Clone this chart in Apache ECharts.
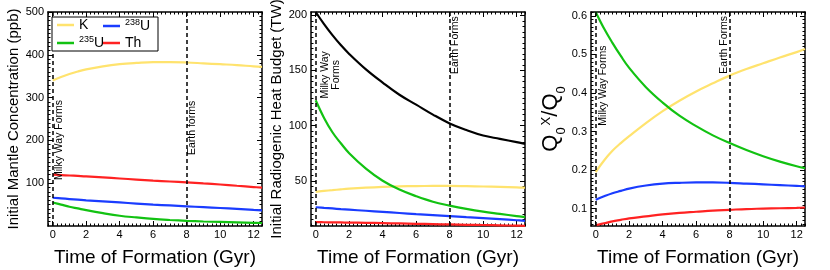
<!DOCTYPE html>
<html>
<head>
<meta charset="utf-8">
<script src="https://cdn.jsdelivr.net/npm/echarts@6/dist/echarts.min.js"></script>
<style>
html,body{margin:0;padding:0;background:#fff;}
#chart{width:830px;height:270px;}
</style>
</head>
<body>
<div id="chart"></div>
<script>
// ---- data ----
const time = [0, 0.5, 1, 1.5, 2, 3, 4, 5, 6, 7, 8, 9, 10, 11, 12, 12.5];

// Panel 1: initial mantle concentration (ppb)
const concK    = [340, 348, 355, 361, 366, 373, 378, 381, 383, 383, 382, 380, 378, 376, 373, 372];
const concU238 = [66, 64.5, 63, 61.5, 60, 57.5, 55, 52.5, 50, 48, 46, 44, 42, 40, 37.5, 36.5];
const concU235 = [55, 50, 45, 41, 37, 30, 24, 20, 16.5, 14, 12, 10.5, 9.5, 8.5, 7.5, 7];
const concTh   = [120, 119, 118, 117, 116, 113.5, 111, 108.5, 106, 104, 102, 99.5, 97, 94, 91, 89.5];

// Panel 2: initial radiogenic heat budget (TW)
const heatTotal = [203, 192, 182, 173, 165, 151, 139, 128, 119, 110, 102, 96, 91, 88, 85, 83.5];
const heatK     = [40, 40.8, 41.5, 42.2, 42.8, 43.7, 44.4, 44.9, 45.2, 45.3, 45.3, 45.1, 44.8, 44.5, 44.1, 43.8];
const heatU238  = [26, 25.4, 24.9, 24.3, 23.8, 22.8, 21.8, 20.8, 19.8, 18.9, 18, 17.1, 16.2, 15.2, 14.2, 13.7];
const heatU235  = [123, 107, 94, 84, 75, 61, 50, 42, 36, 31, 27.5, 24.5, 22, 20, 18, 17];
const heatTh    = [12.5, 12.4, 12.3, 12.2, 12.1, 11.9, 11.6, 11.3, 11, 10.7, 10.4, 10.1, 9.9, 9.6, 9.3, 9.2];

// Panel 3: fraction Q0^X / Q0
const fracK    = [0.195, 0.225, 0.25, 0.27, 0.288, 0.322, 0.353, 0.38, 0.404, 0.425, 0.445, 0.462, 0.477, 0.492, 0.506, 0.514];
const fracU238 = [0.123, 0.132, 0.14, 0.146, 0.152, 0.16, 0.165, 0.167, 0.168, 0.168, 0.167, 0.165, 0.163, 0.161, 0.159, 0.158];
const fracU235 = [0.61, 0.567, 0.53, 0.496, 0.465, 0.415, 0.375, 0.341, 0.314, 0.29, 0.27, 0.252, 0.236, 0.222, 0.21, 0.205];
const fracTh   = [0.057, 0.062, 0.067, 0.071, 0.075, 0.080, 0.085, 0.089, 0.092, 0.095, 0.097, 0.099, 0.100, 0.101, 0.102, 0.103];

// ticks & labels
const xMajor = [0, 2, 4, 6, 8, 10, 12];
const yMajor1 = [100, 200, 300, 400, 500];
const yMajor2 = [50, 100, 150, 200];
const yMajor3 = [0.1, 0.2, 0.3, 0.4, 0.5, 0.6];
const events = [0, 8];

// ---- styling ----
const FONT = "'Liberation Sans', Arial, Helvetica, sans-serif";
const C = {K:'#ffe36e', U238:'#1a3cff', U235:'#12c212', Th:'#ff2222', tot:'#000000'};

function range(a, b, step) {
  const out = [];
  const n = Math.round((b - a) / step);
  for (let i = 0; i <= n; i++) out.push(+(a + i * step).toFixed(4));
  return out;
}
function minorsOf(list, majors) {
  return list.filter(v => !majors.some(m => Math.abs(m - v) < 1e-6));
}

const panels = [
  {left: 48, ymin: 0, ymax: 500, yMajor: yMajor1, yMinor: minorsOf(range(10, 490, 10), yMajor1),
   yName: 'Initial Mantle Concentration (ppb)', fmt: v => String(v)},
  {left: 311, ymin: 9, ymax: 203, yMajor: yMajor2, yMinor: minorsOf(range(10, 200, 5), yMajor2),
   yName: 'Initial Radiogenic Heat Budget (TW)', fmt: v => String(v)},
  {left: 591, ymin: 0.055, ymax: 0.61, yMajor: yMajor3, yMinor: minorsOf(range(0.06, 0.61, 0.01), yMajor3),
   yName: '{q|Q}{sb|0}{sp|X}{q|/Q}{sb|0}', fmt: v => v.toFixed(1)}
];
const XMIN = -0.28, XMAX = 12.5;
const xMinor = minorsOf(range(-0.25, 12.5, 0.25), xMajor);

const grids = [], xAxes = [], yAxes = [];
const lineAx = {show: true, onZero: false, lineStyle: {color: '#000', width: 1.5}};

panels.forEach((p, g) => {
  grids.push({left: p.left, top: 12, width: 214, height: 214, containLabel: false, outerBoundsMode: 'none'});
  xAxes.push({type:'value', gridIndex:g, min:XMIN, max:XMAX, position:'bottom', scale:true,
    axisLine: lineAx, splitLine:{show:false},
    axisTick:{show:true, inside:true, length:5, customValues:xMajor, lineStyle:{color:'#000', width:1}},
    axisLabel:{show:true, customValues:xMajor, color:'#000', fontFamily:FONT, fontSize:11, margin:3},
    name:'Time of Formation (Gyr)', nameLocation:'middle', nameGap:22,
    nameTextStyle:{color:'#000', fontFamily:FONT, fontSize:19}});
  xAxes.push({type:'value', gridIndex:g, min:XMIN, max:XMAX, position:'bottom', scale:true,
    axisLine:{show:false, onZero:false}, splitLine:{show:false}, axisLabel:{show:false},
    axisTick:{show:true, inside:true, length:2.5, customValues:xMinor, lineStyle:{color:'#000', width:1}}});
  xAxes.push({type:'value', gridIndex:g, min:XMIN, max:XMAX, position:'top', scale:true,
    axisLine: lineAx, splitLine:{show:false}, axisLabel:{show:false},
    axisTick:{show:true, inside:true, length:5, customValues:xMajor, lineStyle:{color:'#000', width:1}}});
  xAxes.push({type:'value', gridIndex:g, min:XMIN, max:XMAX, position:'top', scale:true,
    axisLine:{show:false, onZero:false}, splitLine:{show:false}, axisLabel:{show:false},
    axisTick:{show:true, inside:true, length:2.5, customValues:xMinor, lineStyle:{color:'#000', width:1}}});
  const isRich = g === 2;
  yAxes.push({type:'value', gridIndex:g, min:p.ymin, max:p.ymax, position:'left', scale:true,
    axisLine: lineAx, splitLine:{show:false},
    axisTick:{show:true, inside:true, length:5, customValues:p.yMajor, lineStyle:{color:'#000', width:1}},
    axisLabel:{show:true, customValues:p.yMajor, color:'#000', fontFamily:FONT, fontSize:11, margin:4, formatter:p.fmt},
    name:p.yName, nameLocation:'middle', nameGap: isRich ? 23 : 26,
    nameTextStyle: isRich ? {color:'#000', fontFamily:FONT, rich:{
        q:{fontSize:22, fontFamily:FONT, color:'#000'},
        sb:{fontSize:13, fontFamily:FONT, color:'#000', verticalAlign:'bottom', lineHeight:12, padding:[0,0,-6,0]},
        sp:{fontSize:13, fontFamily:FONT, color:'#000', verticalAlign:'top', lineHeight:12, padding:[0,0,0,2]}}}
      : {color:'#000', fontFamily:FONT, fontSize:15}});
  yAxes.push({type:'value', gridIndex:g, min:p.ymin, max:p.ymax, position:'left', scale:true,
    axisLine:{show:false, onZero:false}, splitLine:{show:false}, axisLabel:{show:false},
    axisTick:{show:true, inside:true, length:2.5, customValues:p.yMinor, lineStyle:{color:'#000', width:1}}});
  yAxes.push({type:'value', gridIndex:g, min:p.ymin, max:p.ymax, position:'right', scale:true,
    axisLine: lineAx, splitLine:{show:false}, axisLabel:{show:false},
    axisTick:{show:true, inside:true, length:5, customValues:p.yMajor, lineStyle:{color:'#000', width:1}}});
  yAxes.push({type:'value', gridIndex:g, min:p.ymin, max:p.ymax, position:'right', scale:true,
    axisLine:{show:false, onZero:false}, splitLine:{show:false}, axisLabel:{show:false},
    axisTick:{show:true, inside:true, length:2.5, customValues:p.yMinor, lineStyle:{color:'#000', width:1}}});
});

function zip(ys) { return time.map((t, i) => [t, ys[i]]); }
function line(name, g, ys, color, extra) {
  return Object.assign({
    type:'line', name, xAxisIndex:g*4, yAxisIndex:g*4, data:zip(ys),
    showSymbol:false, symbol:'none', smooth:0.4, clip:true,
    lineStyle:{color, width:2.2}, itemStyle:{color}, animation:false, silent:true
  }, extra || {});
}
const dashLine = {
  silent:true, symbol:['none','none'], animation:false,
  label:{show:false}, lineStyle:{color:'#000', type:[4,3], width:1.5},
  data: events.map(v => ({xAxis:v}))
};

const series = [
  line('K', 0, concK, C.K),
  line('235U', 0, concU235, C.U235),
  line('238U', 0, concU238, C.U238),
  line('Th', 0, concTh, C.Th, {markLine: dashLine}),
  line('Total', 1, heatTotal, C.tot),
  line('K', 1, heatK, C.K),
  line('235U', 1, heatU235, C.U235),
  line('238U', 1, heatU238, C.U238),
  line('Th', 1, heatTh, C.Th, {markLine: dashLine}),
  line('K', 2, fracK, C.K),
  line('235U', 2, fracU235, C.U235),
  line('238U', 2, fracU238, C.U238),
  line('Th', 2, fracTh, C.Th, {markLine: dashLine})
];

const legRich = {
  n:{fontSize:14, fontFamily:FONT, color:'#000', lineHeight:16},
  s:{fontSize:9, fontFamily:FONT, color:'#000', verticalAlign:'top', lineHeight:10}
};
function legFmt(name) {
  if (name === '235U' || name === '238U') return '{s|' + name.slice(0,3) + '}{n|U}';
  return '{n|' + name + '}';
}
const legBase = {orient:'vertical', top:18, itemGap:3, itemWidth:17, itemHeight:2.5, icon:'rect',
  selectedMode:false, formatter:legFmt, textStyle:{rich:legRich}, padding:0, z:10};

const chart = echarts.init(document.getElementById('chart'), null, {renderer:'canvas'});
chart.setOption({
  backgroundColor:'#fff',
  animation:false,
  grid: grids,
  xAxis: xAxes,
  yAxis: yAxes,
  legend: [
    Object.assign({}, legBase, {left:57, data:['K','235U']}),
    Object.assign({}, legBase, {left:103, data:['238U','Th']})
  ],
  series
});

function px(g, x, y) { return chart.convertToPixel({xAxisIndex:g*4, yAxisIndex:g*4}, [x, y]); }
const notes = [
  {g:0, x:0, y:201, dx:6, text:'Milky Way Forms'},
  {g:0, x:8, y:229, dx:5, text:'Earth forms'},
  {g:1, x:0, y:146, dx:15, text:'Milky Way\nForms'},
  {g:1, x:8, y:173, dx:5, text:'Earth Forms'},
  {g:2, x:0, y:0.419, dx:7, text:'Milky Way Forms'},
  {g:2, x:8, y:0.525, dx:-6, text:'Earth Forms'}
];
const graphics = [{
  type:'rect', z:5, shape:{x:52, y:17, width:106, height:34},
  style:{fill:'#fff', stroke:'#000', lineWidth:1}
}];
notes.forEach(n => {
  const p = px(n.g, n.x, n.y);
  graphics.push({type:'text', x:p[0] + n.dx, y:p[1], rotation:Math.PI/2, z:6,
    style:{text:n.text, fontSize:10.5, fontFamily:FONT, fill:'#000',
      align:'center', verticalAlign:'middle', textAlign:'center', textVerticalAlign:'middle', lineHeight:11}});
});
chart.setOption({graphic: graphics});
</script>
</body>
</html>
